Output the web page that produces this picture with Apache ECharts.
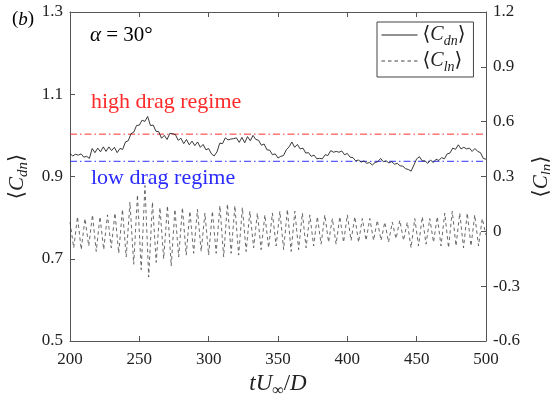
<!DOCTYPE html>
<html>
<head>
<meta charset="utf-8">
<script src="https://cdn.jsdelivr.net/npm/echarts@6/dist/echarts.min.js"></script>
<style>
  html, body { margin: 0; padding: 0; background: #fff; }
  #chart { width: 550px; height: 398px; }
</style>
</head>
<body>
<div id="chart"></div>
<script>
// Time-averaged drag coefficient, sampled every 2 time units from tU/D = 200
const dragStart = 200;
const dragStep = 2;
const dragValues = [
  0.956, 0.950, 0.954, 0.952, 0.955, 0.947, 0.949, 0.944, 0.968, 0.958,
  0.969, 0.960, 0.972, 0.961, 0.972, 0.963, 0.971, 0.958, 0.968, 0.966,
  0.984, 0.987, 1.004, 1.008, 1.024, 1.025, 1.037, 1.034, 1.046, 1.024,
  1.025, 1.010, 1.009, 0.993, 1.000, 0.990, 1.005, 1.004, 1.002, 0.988,
  0.993, 0.980, 0.990, 0.977, 0.986, 0.975, 0.984, 0.971, 0.978, 0.965,
  0.968, 0.955, 0.950, 0.960, 0.981, 0.980, 0.994, 0.989, 0.991, 0.992,
  0.994, 0.983, 0.995, 0.982, 0.997, 0.987, 1.000, 0.990, 0.988, 0.976,
  0.979, 0.965, 0.964, 0.953, 0.955, 0.945, 0.949, 0.951, 0.965, 0.972,
  0.984, 0.971, 0.978, 0.967, 0.969, 0.957, 0.958, 0.949, 0.952, 0.943,
  0.944, 0.943, 0.953, 0.951, 0.963, 0.959, 0.961, 0.959, 0.962, 0.953,
  0.956, 0.947, 0.946, 0.938, 0.940, 0.935, 0.938, 0.932, 0.934, 0.928,
  0.934, 0.936, 0.944, 0.936, 0.938, 0.933, 0.936, 0.930, 0.932, 0.926,
  0.925, 0.919, 0.917, 0.913, 0.928, 0.943, 0.948, 0.938, 0.938, 0.932,
  0.940, 0.934, 0.942, 0.939, 0.946, 0.943, 0.955, 0.957, 0.969, 0.966,
  0.977, 0.967, 0.971, 0.967, 0.969, 0.961, 0.968, 0.961, 0.958, 0.944,
  0.942
];

// Time-averaged lift coefficient: successive extrema, 112 samples over tU/D = 200..500
const liftStart = 200;
const liftEnd = 500;
const liftValues = [
   0.05, -0.09,  0.08, -0.10,  0.07, -0.08,  0.09, -0.11,  0.08, -0.10,
   0.09, -0.09,  0.10, -0.12,  0.12, -0.14,  0.16, -0.18,  0.20, -0.21,
   0.25, -0.25,  0.16, -0.17,  0.13, -0.15,  0.14, -0.19,  0.12, -0.14,
   0.13, -0.13,  0.11, -0.12,  0.12, -0.11,  0.10, -0.13,  0.11, -0.12,
   0.14, -0.14,  0.15, -0.12,  0.14, -0.13,  0.13, -0.11,  0.11, -0.09,
   0.10, -0.10,  0.09, -0.09,  0.10, -0.08,  0.11, -0.10,  0.12, -0.11,
   0.11, -0.10,  0.10, -0.09,  0.09, -0.08,  0.08, -0.07,  0.09, -0.06,
   0.07, -0.07,  0.08, -0.06,  0.09, -0.05,  0.08, -0.06,  0.07, -0.05,
   0.07, -0.05,  0.06, -0.05,  0.05, -0.06,  0.05, -0.04,  0.06, -0.05,
   0.05, -0.09,  0.07, -0.08,  0.08, -0.07,  0.07, -0.06,  0.08, -0.08,
   0.10, -0.09,  0.11, -0.08,  0.10, -0.09,  0.10, -0.08,  0.09, -0.08,
   0.07, -0.02
];

// Regime thresholds on the drag axis
const highDragLevel = 1.003;
const lowDragLevel = 0.937;

// Axis ranges and ticks
const timeRange = [200, 500];
const timeTick = 50;
const dragRange = [0.5, 1.3];
const dragTick = 0.2;
const liftRange = [-0.6, 1.2];
const liftTick = 0.3;

const dragData = dragValues.map((v, i) => [dragStart + i * dragStep, v]);
const liftDt = (liftEnd - liftStart) / (liftValues.length - 1);
const liftData = liftValues.map((v, i) => [liftStart + i * liftDt, v]);
const highDragData = timeRange.map((t) => [t, highDragLevel]);
const lowDragData = timeRange.map((t) => [t, lowDragLevel]);

const SERIF = '"Liberation Serif", "DejaVu Serif", serif';
const AXIS_COLOR = '#555';
const TEXT_COLOR = '#222';

const tickFmt = (v) => {
  const s = (Math.round(v * 10) / 10).toFixed(1);
  return (s === '-0.0' || s === '0.0') ? '0' : s;
};

function richSub(size) {
  const sub = Math.round(size * 0.7);
  return {
    n: { fontFamily: SERIF, fontSize: size, color: TEXT_COLOR, lineHeight: size + 6 },
    i: { fontFamily: SERIF, fontSize: size, fontStyle: 'italic', color: TEXT_COLOR, lineHeight: size + 6 },
    s: { fontFamily: SERIF, fontSize: sub, fontStyle: 'italic', color: TEXT_COLOR, verticalAlign: 'bottom', lineHeight: sub }
  };
}

const chart = echarts.init(document.getElementById('chart'), null, { renderer: 'canvas' });

const axisLineStyle = { show: true, onZero: false, lineStyle: { color: AXIS_COLOR, width: 1 } };
const tickStyle = { show: true, inside: true, length: 5, lineStyle: { color: AXIS_COLOR, width: 1 } };
const dashDot = [7, 3, 1.5, 3];

chart.setOption({
  animation: false,
  backgroundColor: '#fff',
  grid: { left: 70, right: 64, top: 12, bottom: 57, containLabel: false, outerBoundsMode: 'none' },
  legend: {
    left: 377, top: 22,
    orient: 'vertical',
    itemWidth: 36, itemHeight: 14, itemGap: 3,
    padding: [3, 8, 3, 4],
    borderColor: '#444', borderWidth: 1,
    backgroundColor: '#fff',
    selectedMode: false,
    itemStyle: { opacity: 0 },
    lineStyle: { width: 1 },
    data: ['Cdn', 'Cln'],
    formatter: (name) => name === 'Cdn' ? '{n|⟨}{i|C}{s|dn}{n|⟩}' : '{n|⟨}{i|C}{s|ln}{n|⟩}',
    textStyle: { rich: richSub(20) }
  },
  xAxis: [{
    type: 'value', min: timeRange[0], max: timeRange[1], interval: timeTick,
    axisLine: axisLineStyle, axisTick: tickStyle, splitLine: { show: false },
    axisLabel: { fontFamily: SERIF, fontSize: 17, color: TEXT_COLOR, margin: 10 },
    name: '{i|tU}{s|∞}{n|/}{i|D}', nameLocation: 'middle', nameGap: 27,
    nameTextStyle: { rich: richSub(23) }
  }, {
    type: 'value', position: 'top', min: timeRange[0], max: timeRange[1], interval: timeTick,
    axisLine: axisLineStyle, axisTick: tickStyle, axisLabel: { show: false }, splitLine: { show: false }
  }],
  yAxis: [{
    type: 'value', min: dragRange[0], max: dragRange[1], interval: dragTick,
    axisLine: axisLineStyle, axisTick: tickStyle, splitLine: { show: false },
    axisLabel: { fontFamily: SERIF, fontSize: 17, color: TEXT_COLOR, margin: 7, formatter: tickFmt },
    name: '{n|⟨}{i|C}{s|dn}{n|⟩}', nameLocation: 'middle', nameGap: 31, nameRotate: 90,
    nameTextStyle: { rich: richSub(21) }
  }, {
    type: 'value', position: 'right', min: liftRange[0], max: liftRange[1], interval: liftTick,
    axisLine: axisLineStyle, axisTick: tickStyle, splitLine: { show: false },
    axisLabel: { fontFamily: SERIF, fontSize: 17, color: TEXT_COLOR, margin: 7, formatter: tickFmt },
    name: '{n|⟨}{i|C}{s|ln}{n|⟩}', nameLocation: 'middle', nameGap: 35, nameRotate: 90,
    nameTextStyle: { rich: richSub(21) }
  }],
  series: [{
    name: 'high drag', type: 'line', xAxisIndex: 0, yAxisIndex: 0,
    data: highDragData, showSymbol: false, symbol: 'none', silent: true,
    lineStyle: { color: '#ff3030', width: 1, type: dashDot }, z: 1
  }, {
    name: 'low drag', type: 'line', xAxisIndex: 0, yAxisIndex: 0,
    data: lowDragData, showSymbol: false, symbol: 'none', silent: true,
    lineStyle: { color: '#3030ff', width: 1, type: dashDot }, z: 1
  }, {
    name: 'Cdn', type: 'line', xAxisIndex: 0, yAxisIndex: 0,
    data: dragData, showSymbol: false, symbol: 'none',
    lineStyle: { color: '#222', width: 0.9 },
    itemStyle: { color: '#222' },
    z: 3
  }, {
    name: 'Cln', type: 'line', xAxisIndex: 0, yAxisIndex: 1,
    data: liftData, showSymbol: false, symbol: 'none',
    lineStyle: { color: '#444', width: 0.8, type: [3.5, 3] },
    itemStyle: { color: '#444' },
    z: 2
  }],
  graphic: [
    {
      type: 'text', left: 12, top: 10,
      style: { text: '{n|(}{i|b}{n|)}', rich: richSub(19) }
    },
    {
      type: 'text', left: 90, top: 25,
      style: { text: '{i|α}{n| = 30°}', rich: richSub(21) }
    },
    {
      type: 'text', left: 91, top: 91,
      style: { text: 'high drag regime', fontFamily: SERIF, fontSize: 22, fill: '#ff2a2a' }
    },
    {
      type: 'text', left: 91, top: 167,
      style: { text: 'low drag regime', fontFamily: SERIF, fontSize: 22, fill: '#2a2aff' }
    }
  ]
});
</script>
</body>
</html>
